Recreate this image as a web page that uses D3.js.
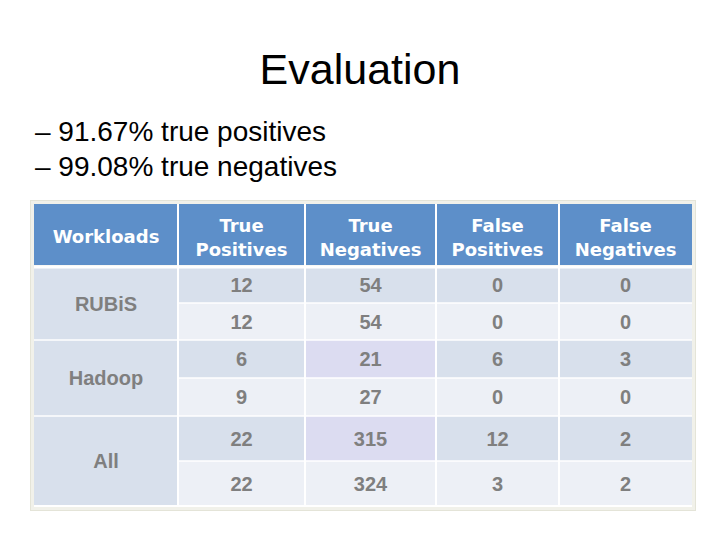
<!DOCTYPE html>
<html>
<head>
<meta charset="utf-8">
<script src="https://cdn.jsdelivr.net/npm/d3@7"></script>
<style>
  body { margin: 0; background: #fff; }
  svg { display: block; }
</style>
</head>
<body>
<div id="chart"></div>
<script>
// slide content
const title = "Evaluation";
const bullets = ["– 91.67% true positives", "– 99.08% true negatives"];

// table content
const headers = ["Workloads", "True Positives", "True Negatives", "False Positives", "False Negatives"];
const workloads = ["RUBiS", "Hadoop", "All"];
const truePositives = [12, 12, 6, 9, 22, 22];
const trueNegatives = [54, 54, 21, 27, 315, 324];
const falsePositives = [0, 0, 6, 0, 12, 3];
const falseNegatives = [0, 0, 3, 0, 2, 2];
const highlighted = [[2, 2], [4, 2]]; // [row, column] cells shaded lavender

(function () {
  const width = 720, height = 540;
  const svg = d3.select("#chart")
    .append("svg")
    .attr("width", width)
    .attr("height", height);

  // layout of the table (column and row edges)
  const colEdges = [34, 178, 305, 436, 559, 692];
  const rowEdges = [267, 303, 340, 378, 416, 461, 506];
  const headTop = 204, headBottom = 265;

  const cols = d3.scaleOrdinal().domain(d3.range(5)).range(colEdges.slice(0, 5));
  const colW = i => colEdges[i + 1] - colEdges[i];
  const rows = d3.scaleOrdinal().domain(d3.range(6)).range(rowEdges.slice(0, 6));
  const rowH = i => rowEdges[i + 1] - rowEdges[i];

  const values = [truePositives, trueNegatives, falsePositives, falseNegatives];
  const cells = [];
  values.forEach((series, c) => series.forEach((v, r) => cells.push({ r, c: c + 1, v })));
  const isHi = d => highlighted.some(h => h[0] === d.r && h[1] === d.c);

  // title + bullets
  svg.append("text")
    .attr("x", width / 2)
    .attr("y", 84)
    .attr("text-anchor", "middle")
    .style("font-family", "Liberation Sans, Arial, sans-serif")
    .style("font-size", "43px")
    .text(title);

  svg.selectAll("text.bullet")
    .data(bullets)
    .enter()
    .append("text")
    .attr("class", "bullet")
    .attr("x", 35)
    .attr("y", (d, i) => 141 + i * 35)
    .style("font-family", "Liberation Sans, Arial, sans-serif")
    .style("font-size", "28px")
    .text(d => d);

  // outer frame
  svg.append("rect")
    .attr("x", 30.5).attr("y", 200.5)
    .attr("width", 665).attr("height", 310)
    .attr("fill", "#f1f1ea")
    .attr("stroke", "#e4e4d8");

  // header
  const g = svg.append("g");
  g.selectAll("rect.head")
    .data(headers)
    .enter()
    .append("rect")
    .attr("class", "head")
    .attr("x", (d, i) => cols(i))
    .attr("y", headTop)
    .attr("width", (d, i) => colW(i))
    .attr("height", headBottom - headTop)
    .attr("fill", "#5d8fc9");

  g.selectAll("text.head")
    .data(headers)
    .enter()
    .append("text")
    .attr("class", "head")
    .attr("text-anchor", "middle")
    .attr("fill", "#fff")
    .style("font-family", "DejaVu Sans, Verdana, sans-serif")
    .style("font-weight", "bold")
    .style("font-size", "18px")
    .each(function (d, i) {
      const words = d.split(" ");
      const t = d3.select(this);
      const cx = cols(i) + colW(i) / 2;
      if (words.length === 1) {
        t.append("tspan").attr("x", cx).attr("y", 243).text(d);
      } else {
        t.append("tspan").attr("x", cx).attr("y", 232).text(words[0]);
        t.append("tspan").attr("x", cx).attr("y", 256).text(words[1]);
      }
    });

  // workload cells
  g.selectAll("rect.wl")
    .data(workloads)
    .enter()
    .append("rect")
    .attr("class", "wl")
    .attr("x", cols(0))
    .attr("y", (d, i) => rows(i * 2))
    .attr("width", colW(0))
    .attr("height", (d, i) => rowH(i * 2) + rowH(i * 2 + 1))
    .attr("fill", "#d8e0ec");

  g.selectAll("text.wl")
    .data(workloads)
    .enter()
    .append("text")
    .attr("class", "wl")
    .attr("x", cols(0) + colW(0) / 2)
    .attr("y", (d, i) => (rows(i * 2) + rowEdges[i * 2 + 2]) / 2 + 7)
    .attr("text-anchor", "middle")
    .attr("fill", "#7f7f7f")
    .style("font-family", "Liberation Sans, Arial, sans-serif")
    .style("font-weight", "bold")
    .style("font-size", "20px")
    .text(d => d);

  // value cells
  g.selectAll("rect.cell")
    .data(cells)
    .enter()
    .append("rect")
    .attr("class", "cell")
    .attr("x", d => cols(d.c))
    .attr("y", d => rows(d.r))
    .attr("width", d => colW(d.c))
    .attr("height", d => rowH(d.r))
    .attr("fill", d => isHi(d) ? "#dcdcf1" : (d.r % 2 === 0 ? "#d8e0ec" : "#edf0f6"));

  g.selectAll("text.cell")
    .data(cells)
    .enter()
    .append("text")
    .attr("class", "cell")
    .attr("x", d => cols(d.c) + colW(d.c) / 2)
    .attr("y", d => rows(d.r) + rowH(d.r) / 2 + 7)
    .attr("text-anchor", "middle")
    .attr("fill", "#7f7f7f")
    .style("font-family", "Liberation Sans, Arial, sans-serif")
    .style("font-weight", "bold")
    .style("font-size", "20px")
    .text(d => d.v);

  // white grid lines
  const grid = g.append("g").attr("stroke", "#fff").attr("stroke-width", 2);
  grid.selectAll("line.v")
    .data(colEdges.slice(1, 5))
    .enter()
    .append("line")
    .attr("x1", d => d).attr("x2", d => d)
    .attr("y1", headTop).attr("y2", rowEdges[6]);
  grid.selectAll("line.h")
    .data(rowEdges.slice(0, 6))
    .enter()
    .append("line")
    .attr("x1", (d, i) => i % 2 === 0 ? colEdges[0] : colEdges[1])
    .attr("x2", colEdges[5])
    .attr("y1", d => d).attr("y2", d => d)
    .attr("stroke-width", (d, i) => i === 0 ? 3 : 1.5);
  grid.append("line")
    .attr("x1", colEdges[0]).attr("x2", colEdges[5])
    .attr("y1", rowEdges[6]).attr("y2", rowEdges[6]);
})();
</script>
</body>
</html>
